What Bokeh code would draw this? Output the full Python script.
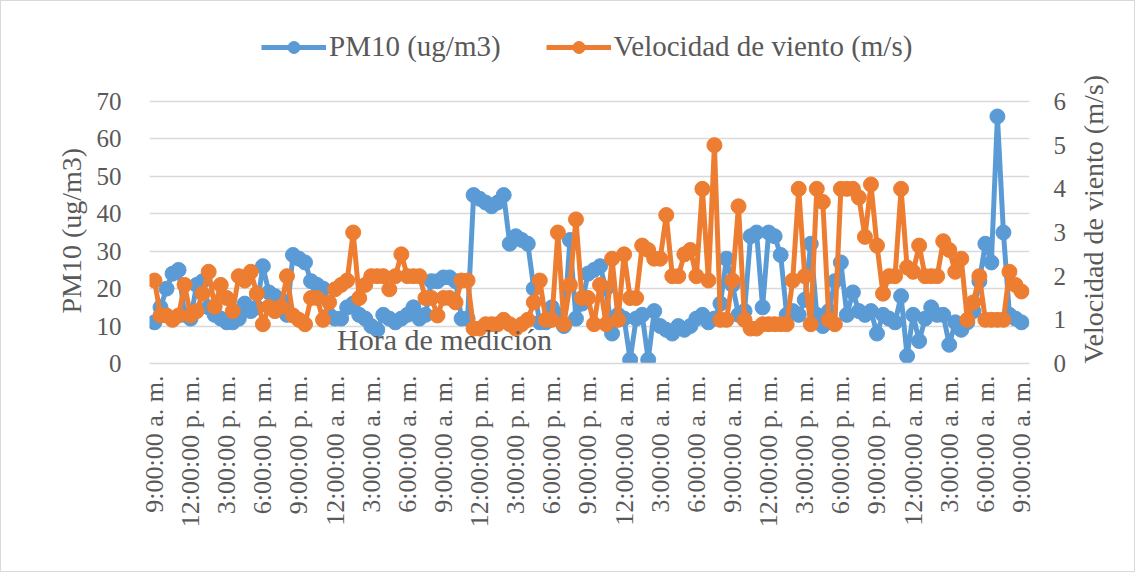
from math import pi
from bokeh.plotting import figure
from bokeh.models import Range1d, LinearAxis, FixedTicker, Legend, LegendItem, Label, Title
from bokeh.embed import file_html
from bokeh.resources import INLINE

# ---------------- data ----------------
tick_labels = [
    "9:00:00 a. m.", "12:00:00 p. m.", "3:00:00 p. m.", "6:00:00 p. m.",
    "9:00:00 p. m.", "12:00:00 a. m.", "3:00:00 a. m.", "6:00:00 a. m.",
    "9:00:00 a. m.", "12:00:00 p. m.", "3:00:00 p. m.", "6:00:00 p. m.",
    "9:00:00 p. m.", "12:00:00 a. m.", "3:00:00 a. m.", "6:00:00 a. m.",
    "9:00:00 a. m.", "12:00:00 p. m.", "3:00:00 p. m.", "6:00:00 p. m.",
    "9:00:00 p. m.", "12:00:00 a. m.", "3:00:00 a. m.", "6:00:00 a. m.",
    "9:00:00 a. m.",
]
label_step = 6  # one label every 6 measurements (30 min each)

pm10 = [
    11, 15, 20, 24, 25, 13, 12, 21, 22, 15,
    13, 12, 11, 11, 12, 16, 14, 15, 26, 19,
    18, 17, 13, 29, 28, 27, 22, 21, 20, 13,
    12, 12, 15, 16, 13, 12, 10, 9, 13, 12,
    11, 12, 13, 15, 12, 13, 22, 22, 23, 23,
    22, 12, 12, 45, 44, 43, 42, 43, 45, 32,
    34, 33, 32, 20, 11, 11, 15, 13, 10, 33,
    12, 16, 24, 25, 26, 20, 8, 13, 12, 1,
    12, 13, 1, 14, 10, 9, 8, 10, 9, 10,
    12, 13, 11, 12, 16, 28, 21, 13, 14, 34,
    35, 15, 35, 34, 29, 13, 14, 13, 17, 32,
    13, 10, 14, 22, 27, 13, 19, 14, 13, 14,
    8, 13, 12, 11, 18, 2, 13, 6, 12, 15,
    13, 13, 5, 11, 9, 11, 14, 22, 32, 27,
    66, 35, 13, 12, 11,
]

wind = [
    1.9, 1.1, 1.1, 1.0, 1.1, 1.8, 1.1, 1.2, 1.6, 2.1,
    1.3, 1.8, 1.5, 1.2, 2.0, 1.9, 2.1, 1.6, 0.9, 1.3,
    1.2, 1.3, 2.0, 1.1, 1.0, 0.9, 1.5, 1.5, 1.0, 1.4,
    1.7, 1.8, 1.9, 3.0, 1.5, 1.8, 2.0, 2.0, 2.0, 1.7,
    2.0, 2.5, 2.0, 2.0, 2.0, 1.5, 1.5, 1.1, 1.5, 1.5,
    1.4, 1.9, 1.9, 0.8, 0.8, 0.9, 0.9, 0.9, 1.0, 0.9,
    0.8, 0.9, 1.0, 1.4, 1.9, 1.0, 1.0, 3.0, 0.9, 1.8,
    3.3, 1.5, 1.5, 0.9, 1.8, 0.9, 2.4, 1.0, 2.5, 1.5,
    1.5, 2.7, 2.6, 2.4, 2.4, 3.4, 2.0, 2.0, 2.5, 2.6,
    2.0, 4.0, 1.9, 5.0, 1.0, 1.0, 1.9, 3.6, 1.0, 0.8,
    0.8, 0.9, 0.9, 0.9, 0.9, 0.9, 1.9, 4.0, 2.0, 0.9,
    4.0, 3.7, 1.0, 0.9, 4.0, 4.0, 4.0, 3.8, 2.9, 4.1,
    2.7, 1.6, 2.0, 2.0, 4.0, 2.2, 2.1, 2.7, 2.0, 2.0,
    2.0, 2.8, 2.6, 2.1, 2.4, 1.0, 1.4, 2.0, 1.0, 1.0,
    1.0, 1.0, 2.1, 1.8, 1.65,
]

pm_ticks = [0, 10, 20, 30, 40, 50, 60, 70]
wind_ticks = [0, 1, 2, 3, 4, 5, 6]

series_names = ["PM10 (ug/m3)", "Velocidad de viento (m/s)"]
y_title_left = "PM10 (ug/m3)"
y_title_right = "Velocidad de viento (m/s)"
x_title = "Hora de medición"

# ---------------- style ----------------
BLUE = "#5B9BD5"
ORANGE = "#ED7D31"
GRID = "#D9D9D9"
TEXT = "#595959"
FONT = "Liberation Serif"

FRAME_TOP = 20        # frame reaches up to hold the legend
GRID_TOP = 100        # pixel row of the 70 / 6 gridline
FRAME_BOTTOM = 362
scale_up = (FRAME_BOTTOM - FRAME_TOP) / (FRAME_BOTTOM - GRID_TOP)

last_tick = (len(tick_labels) - 1) * label_step

p = figure(
    width=1135, height=572,
    min_border_left=148, min_border_right=107,
    min_border_top=FRAME_TOP, min_border_bottom=572 - FRAME_BOTTOM,
    x_range=Range1d(-0.83, last_tick + 1.33),
    y_range=Range1d(0, max(pm_ticks) * scale_up),
    output_backend="svg", toolbar_location=None,
)
p.styles = {"border": "1px solid #D9D9D9"}
p.extra_y_ranges = {"wind": Range1d(0, max(wind_ticks) * scale_up)}
p.outline_line_color = None
p.background_fill_color = "white"
p.border_fill_color = "white"

# axes
p.xaxis.ticker = FixedTicker(ticks=[i * label_step for i in range(len(tick_labels))])
p.xaxis.major_label_overrides = {i * label_step: t for i, t in enumerate(tick_labels)}
p.xaxis.major_label_orientation = pi / 2
p.xaxis.axis_line_color = GRID
p.xaxis.axis_line_width = 1.5
p.xaxis.major_label_standoff = 12
p.xaxis.major_label_text_font_size = "26px"

p.yaxis.ticker = FixedTicker(ticks=pm_ticks)
p.yaxis.axis_line_color = None
p.yaxis.major_label_standoff = 28
p.yaxis.major_label_text_font_size = "25px"

right = LinearAxis(y_range_name="wind", ticker=FixedTicker(ticks=wind_ticks))
right.axis_line_color = None
right.major_label_standoff = 24
right.major_label_text_font_size = "25px"
right.axis_label = y_title_right
right.axis_label_standoff = 24
right.axis_label_orientation = pi / 2
right.axis_label_align = "start"
p.add_layout(right, "right")

for ax in [p.xaxis[0], p.yaxis[0], right]:
    ax.major_tick_line_color = None
    ax.minor_tick_line_color = None
    ax.major_tick_out = 0
    ax.major_tick_in = 0
    ax.major_label_text_font = FONT
    ax.major_label_text_color = TEXT
    ax.axis_label_text_font = FONT
    ax.axis_label_text_font_style = "normal"
    ax.axis_label_text_font_size = "28px"
    ax.axis_label_text_color = TEXT

# left title
p.add_layout(Title(text=y_title_left, align="left", offset=50, standoff=14,
                   text_font=FONT, text_font_size="28px", text_font_style="normal",
                   text_color=TEXT), "left")

p.xgrid.visible = False
p.ygrid.grid_line_color = GRID
p.ygrid.grid_line_width = 1.5
p.ygrid.ticker = FixedTicker(ticks=pm_ticks)

# x title sitting inside the plot area (as in the original)
p.add_layout(Label(x=295, y=24, x_units="screen", y_units="screen", text=x_title,
                   text_align="center", text_baseline="middle",
                   text_font=FONT, text_font_size="30px", text_color=TEXT))

# series
xs_pm = list(range(len(pm10)))
xs_w = list(range(len(wind)))
l1 = p.line(xs_pm, pm10, line_color=BLUE, line_width=5)
s1 = p.scatter(xs_pm, pm10, size=15, fill_color=BLUE, line_color=BLUE)
l2 = p.line(xs_w, wind, line_color=ORANGE, line_width=5, y_range_name="wind")
s2 = p.scatter(xs_w, wind, size=15, fill_color=ORANGE, line_color=ORANGE, y_range_name="wind")

legend = Legend(
    items=[LegendItem(label=series_names[0], renderers=[l1, s1]),
           LegendItem(label=series_names[1], renderers=[l2, s2])],
    location=(112, 300), orientation="horizontal",
    glyph_width=65, glyph_height=30, label_standoff=3, spacing=45,
    padding=0, margin=0,
    border_line_color=None, background_fill_alpha=0,
    label_text_font=FONT, label_text_font_size="29px", label_text_color=TEXT,
)
p.add_layout(legend)

open("out.html", "w").write(file_html(p, INLINE))
